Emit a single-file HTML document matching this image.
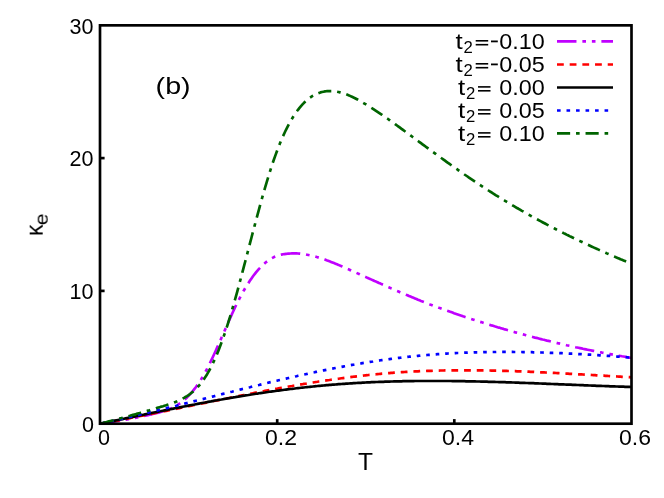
<!DOCTYPE html>
<html><head><meta charset="utf-8"><title>plot</title>
<style>
html,body{margin:0;padding:0;background:#fff;}
svg{display:block;}
text{font-family:"Liberation Sans",sans-serif;fill:#000;}
</style></head><body>
<svg width="664" height="498" viewBox="0 0 664 498">
<rect x="0" y="0" width="664" height="498" fill="#ffffff"/>

<g fill="none" stroke-width="2.67" stroke-linejoin="round">
<path d="M100.0,423.7 L101.5,423.5 L103.0,423.3 L104.5,423.1 L106.0,422.9 L107.5,422.6 L109.0,422.4 L110.5,422.2 L112.0,422.0 L113.5,421.7 L115.0,421.5 L116.5,421.2 L118.0,421.0 L119.5,420.7 L121.0,420.5 L122.5,420.2 L124.0,420.0 L125.5,419.7 L127.0,419.4 L128.5,419.1 L130.0,418.8 L131.5,418.6 L133.0,418.3 L134.5,418.0 L136.0,417.7 L137.5,417.4 L139.0,417.1 L140.5,416.7 L142.0,416.4 L143.5,416.1 L145.0,415.8 L146.5,415.4 L148.0,415.1 L149.5,414.7 L151.0,414.4 L152.5,414.0 L154.0,413.7 L155.5,413.3 L157.0,413.0 L158.5,412.6 L160.0,412.2 L161.5,411.8 L163.0,411.3 L164.5,410.9 L166.0,410.4 L167.5,409.8 L169.0,409.2 L170.5,408.6 L172.0,407.9 L173.5,407.2 L175.0,406.4 L176.5,405.5 L178.0,404.6 L179.5,403.6 L181.0,402.5 L182.5,401.4 L184.0,400.1 L185.5,398.8 L187.0,397.4 L188.5,395.9 L190.0,394.3 L191.5,392.6 L193.0,390.8 L194.5,388.9 L196.0,387.0 L197.5,384.9 L199.0,382.7 L200.5,380.4 L202.0,377.9 L203.5,375.4 L205.0,372.7 L206.5,369.9 L208.0,367.0 L209.5,364.0 L211.0,360.9 L212.5,357.7 L214.0,354.5 L215.5,351.2 L217.0,347.9 L218.5,344.6 L220.0,341.2 L221.5,337.8 L223.0,334.4 L224.5,331.0 L226.0,327.6 L227.5,324.2 L229.0,320.7 L230.5,317.4 L232.0,314.0 L233.5,310.8 L235.0,307.5 L236.5,304.4 L238.0,301.4 L239.5,298.5 L241.0,295.6 L242.5,292.9 L244.0,290.2 L245.5,287.7 L247.0,285.2 L248.5,282.9 L250.0,280.6 L251.5,278.4 L253.0,276.3 L254.5,274.3 L256.0,272.4 L257.5,270.6 L259.0,268.9 L260.5,267.3 L262.0,265.8 L263.5,264.4 L265.0,263.1 L266.5,261.8 L268.0,260.7 L269.5,259.7 L271.0,258.7 L272.5,257.9 L274.0,257.1 L275.5,256.5 L277.0,255.9 L278.5,255.4 L280.0,255.0 L281.5,254.6 L283.0,254.3 L284.5,254.1 L286.0,253.9 L287.5,253.7 L289.0,253.6 L290.5,253.5 L292.0,253.4 L293.5,253.4 L295.0,253.4 L296.5,253.4 L298.0,253.5 L299.5,253.6 L301.0,253.8 L302.5,254.0 L304.0,254.2 L305.5,254.4 L307.0,254.7 L308.5,255.0 L310.0,255.3 L311.5,255.6 L313.0,256.0 L314.5,256.4 L316.0,256.8 L317.5,257.2 L319.0,257.7 L320.5,258.1 L322.0,258.6 L323.5,259.1 L325.0,259.6 L326.5,260.2 L328.0,260.7 L329.5,261.3 L331.0,261.9 L332.5,262.5 L334.0,263.1 L335.5,263.7 L337.0,264.3 L338.5,264.9 L340.0,265.6 L341.5,266.2 L343.0,266.9 L344.5,267.5 L346.0,268.2 L347.5,268.9 L349.0,269.5 L350.5,270.2 L352.0,270.9 L353.5,271.5 L355.0,272.2 L356.5,272.9 L358.0,273.6 L359.5,274.2 L361.0,274.9 L362.5,275.6 L364.0,276.3 L365.5,276.9 L367.0,277.6 L368.5,278.3 L370.0,278.9 L371.5,279.6 L373.0,280.3 L374.5,281.0 L376.0,281.6 L377.5,282.3 L379.0,283.0 L380.5,283.6 L382.0,284.3 L383.5,285.0 L385.0,285.6 L386.5,286.3 L388.0,287.0 L389.5,287.6 L391.0,288.3 L392.5,288.9 L394.0,289.6 L395.5,290.2 L397.0,290.9 L398.5,291.5 L400.0,292.2 L401.5,292.8 L403.0,293.4 L404.5,294.1 L406.0,294.7 L407.5,295.3 L409.0,296.0 L410.5,296.6 L412.0,297.2 L413.5,297.8 L415.0,298.4 L416.5,299.0 L418.0,299.7 L419.5,300.3 L421.0,300.9 L422.5,301.4 L424.0,302.0 L425.5,302.6 L427.0,303.2 L428.5,303.8 L430.0,304.4 L431.5,304.9 L433.0,305.5 L434.5,306.1 L436.0,306.6 L437.5,307.2 L439.0,307.8 L440.5,308.3 L442.0,308.9 L443.5,309.4 L445.0,310.0 L446.5,310.5 L448.0,311.0 L449.5,311.6 L451.0,312.1 L452.5,312.6 L454.0,313.2 L455.5,313.7 L457.0,314.2 L458.5,314.7 L460.0,315.2 L461.5,315.7 L463.0,316.3 L464.5,316.8 L466.0,317.3 L467.5,317.8 L469.0,318.3 L470.5,318.7 L472.0,319.2 L473.5,319.7 L475.0,320.2 L476.5,320.7 L478.0,321.2 L479.5,321.7 L481.0,322.1 L482.5,322.6 L484.0,323.1 L485.5,323.5 L487.0,324.0 L488.5,324.5 L490.0,324.9 L491.5,325.4 L493.0,325.8 L494.5,326.3 L496.0,326.7 L497.5,327.2 L499.0,327.6 L500.5,328.1 L502.0,328.5 L503.5,328.9 L505.0,329.4 L506.5,329.8 L508.0,330.2 L509.5,330.7 L511.0,331.1 L512.5,331.5 L514.0,331.9 L515.5,332.4 L517.0,332.8 L518.5,333.2 L520.0,333.6 L521.5,334.0 L523.0,334.4 L524.5,334.8 L526.0,335.2 L527.5,335.6 L529.0,336.0 L530.5,336.4 L532.0,336.8 L533.5,337.2 L535.0,337.6 L536.5,337.9 L538.0,338.3 L539.5,338.7 L541.0,339.1 L542.5,339.5 L544.0,339.8 L545.5,340.2 L547.0,340.6 L548.5,340.9 L550.0,341.3 L551.5,341.7 L553.0,342.0 L554.5,342.4 L556.0,342.7 L557.5,343.1 L559.0,343.4 L560.5,343.8 L562.0,344.1 L563.5,344.5 L565.0,344.8 L566.5,345.2 L568.0,345.5 L569.5,345.8 L571.0,346.2 L572.5,346.5 L574.0,346.8 L575.5,347.2 L577.0,347.5 L578.5,347.8 L580.0,348.1 L581.5,348.4 L583.0,348.8 L584.5,349.1 L586.0,349.4 L587.5,349.7 L589.0,350.0 L590.5,350.3 L592.0,350.6 L593.5,350.9 L595.0,351.2 L596.5,351.5 L598.0,351.8 L599.5,352.1 L601.0,352.4 L602.5,352.7 L604.0,353.0 L605.5,353.3 L607.0,353.5 L608.5,353.8 L610.0,354.1 L611.5,354.4 L613.0,354.7 L614.5,354.9 L616.0,355.2 L617.5,355.5 L619.0,355.7 L620.5,356.0 L622.0,356.3 L623.5,356.5 L625.0,356.8 L626.5,357.1 L628.0,357.3 L629.5,357.6 L631.0,357.8 L631.5,357.9" stroke="#c000ff" stroke-dasharray="19.48,5.89,3.62,5.89,3.62,5.89" stroke-dashoffset="-0.47"/>
<path d="M100.0,423.7 L101.5,423.4 L103.0,423.2 L104.5,422.9 L106.0,422.6 L107.5,422.3 L109.0,422.1 L110.5,421.8 L112.0,421.5 L113.5,421.2 L115.0,421.0 L116.5,420.7 L118.0,420.4 L119.5,420.1 L121.0,419.8 L122.5,419.5 L124.0,419.3 L125.5,419.0 L127.0,418.7 L128.5,418.4 L130.0,418.1 L131.5,417.8 L133.0,417.5 L134.5,417.2 L136.0,416.9 L137.5,416.6 L139.0,416.3 L140.5,416.0 L142.0,415.7 L143.5,415.4 L145.0,415.1 L146.5,414.8 L148.0,414.5 L149.5,414.2 L151.0,413.9 L152.5,413.6 L154.0,413.3 L155.5,413.0 L157.0,412.7 L158.5,412.4 L160.0,412.1 L161.5,411.8 L163.0,411.5 L164.5,411.2 L166.0,410.9 L167.5,410.6 L169.0,410.3 L170.5,410.0 L172.0,409.7 L173.5,409.4 L175.0,409.1 L176.5,408.8 L178.0,408.4 L179.5,408.1 L181.0,407.8 L182.5,407.5 L184.0,407.2 L185.5,406.9 L187.0,406.6 L188.5,406.3 L190.0,406.0 L191.5,405.7 L193.0,405.3 L194.5,405.0 L196.0,404.7 L197.5,404.4 L199.0,404.1 L200.5,403.8 L202.0,403.5 L203.5,403.2 L205.0,402.9 L206.5,402.6 L208.0,402.3 L209.5,401.9 L211.0,401.6 L212.5,401.3 L214.0,401.0 L215.5,400.7 L217.0,400.4 L218.5,400.1 L220.0,399.8 L221.5,399.5 L223.0,399.2 L224.5,398.9 L226.0,398.6 L227.5,398.3 L229.0,398.0 L230.5,397.7 L232.0,397.4 L233.5,397.1 L235.0,396.8 L236.5,396.5 L238.0,396.2 L239.5,395.9 L241.0,395.6 L242.5,395.3 L244.0,395.0 L245.5,394.7 L247.0,394.4 L248.5,394.1 L250.0,393.8 L251.5,393.5 L253.0,393.2 L254.5,392.9 L256.0,392.6 L257.5,392.3 L259.0,392.0 L260.5,391.8 L262.0,391.5 L263.5,391.2 L265.0,390.9 L266.5,390.6 L268.0,390.3 L269.5,390.0 L271.0,389.8 L272.5,389.5 L274.0,389.2 L275.5,388.9 L277.0,388.7 L278.5,388.4 L280.0,388.1 L281.5,387.8 L283.0,387.6 L284.5,387.3 L286.0,387.0 L287.5,386.8 L289.0,386.5 L290.5,386.2 L292.0,386.0 L293.5,385.7 L295.0,385.5 L296.5,385.2 L298.0,384.9 L299.5,384.7 L301.0,384.4 L302.5,384.2 L304.0,383.9 L305.5,383.7 L307.0,383.4 L308.5,383.2 L310.0,383.0 L311.5,382.7 L313.0,382.5 L314.5,382.2 L316.0,382.0 L317.5,381.8 L319.0,381.5 L320.5,381.3 L322.0,381.1 L323.5,380.8 L325.0,380.6 L326.5,380.4 L328.0,380.2 L329.5,380.0 L331.0,379.7 L332.5,379.5 L334.0,379.3 L335.5,379.1 L337.0,378.9 L338.5,378.7 L340.0,378.5 L341.5,378.3 L343.0,378.1 L344.5,377.9 L346.0,377.7 L347.5,377.5 L349.0,377.3 L350.5,377.1 L352.0,376.9 L353.5,376.7 L355.0,376.6 L356.5,376.4 L358.0,376.2 L359.5,376.0 L361.0,375.8 L362.5,375.7 L364.0,375.5 L365.5,375.3 L367.0,375.2 L368.5,375.0 L370.0,374.9 L371.5,374.7 L373.0,374.6 L374.5,374.4 L376.0,374.3 L377.5,374.1 L379.0,374.0 L380.5,373.8 L382.0,373.7 L383.5,373.6 L385.0,373.4 L386.5,373.3 L388.0,373.2 L389.5,373.1 L391.0,372.9 L392.5,372.8 L394.0,372.7 L395.5,372.6 L397.0,372.5 L398.5,372.4 L400.0,372.3 L401.5,372.2 L403.0,372.1 L404.5,372.0 L406.0,371.9 L407.5,371.8 L409.0,371.7 L410.5,371.7 L412.0,371.6 L413.5,371.5 L415.0,371.4 L416.5,371.3 L418.0,371.3 L419.5,371.2 L421.0,371.1 L422.5,371.1 L424.0,371.0 L425.5,371.0 L427.0,370.9 L428.5,370.9 L430.0,370.8 L431.5,370.8 L433.0,370.7 L434.5,370.7 L436.0,370.6 L437.5,370.6 L439.0,370.6 L440.5,370.5 L442.0,370.5 L443.5,370.5 L445.0,370.4 L446.5,370.4 L448.0,370.4 L449.5,370.4 L451.0,370.3 L452.5,370.3 L454.0,370.3 L455.5,370.3 L457.0,370.3 L458.5,370.3 L460.0,370.3 L461.5,370.3 L463.0,370.3 L464.5,370.3 L466.0,370.3 L467.5,370.3 L469.0,370.3 L470.5,370.3 L472.0,370.3 L473.5,370.3 L475.0,370.3 L476.5,370.3 L478.0,370.3 L479.5,370.4 L481.0,370.4 L482.5,370.4 L484.0,370.4 L485.5,370.4 L487.0,370.5 L488.5,370.5 L490.0,370.5 L491.5,370.6 L493.0,370.6 L494.5,370.6 L496.0,370.7 L497.5,370.7 L499.0,370.7 L500.5,370.8 L502.0,370.8 L503.5,370.8 L505.0,370.9 L506.5,370.9 L508.0,371.0 L509.5,371.0 L511.0,371.1 L512.5,371.1 L514.0,371.2 L515.5,371.2 L517.0,371.3 L518.5,371.3 L520.0,371.4 L521.5,371.4 L523.0,371.5 L524.5,371.6 L526.0,371.6 L527.5,371.7 L529.0,371.7 L530.5,371.8 L532.0,371.9 L533.5,371.9 L535.0,372.0 L536.5,372.1 L538.0,372.1 L539.5,372.2 L541.0,372.3 L542.5,372.4 L544.0,372.4 L545.5,372.5 L547.0,372.6 L548.5,372.6 L550.0,372.7 L551.5,372.8 L553.0,372.9 L554.5,372.9 L556.0,373.0 L557.5,373.1 L559.0,373.2 L560.5,373.3 L562.0,373.3 L563.5,373.4 L565.0,373.5 L566.5,373.6 L568.0,373.7 L569.5,373.8 L571.0,373.8 L572.5,373.9 L574.0,374.0 L575.5,374.1 L577.0,374.2 L578.5,374.3 L580.0,374.3 L581.5,374.4 L583.0,374.5 L584.5,374.6 L586.0,374.7 L587.5,374.8 L589.0,374.9 L590.5,374.9 L592.0,375.0 L593.5,375.1 L595.0,375.2 L596.5,375.3 L598.0,375.4 L599.5,375.5 L601.0,375.6 L602.5,375.7 L604.0,375.7 L605.5,375.8 L607.0,375.9 L608.5,376.0 L610.0,376.1 L611.5,376.2 L613.0,376.3 L614.5,376.4 L616.0,376.4 L617.5,376.5 L619.0,376.6 L620.5,376.7 L622.0,376.8 L623.5,376.9 L625.0,377.0 L626.5,377.0 L628.0,377.1 L629.5,377.2 L631.0,377.3 L631.5,377.3" stroke="#ff0000" stroke-dasharray="6.79,5.89" stroke-dashoffset="-1.07"/>
<path d="M100.0,423.7 L101.5,423.4 L103.0,423.1 L104.5,422.8 L106.0,422.5 L107.5,422.2 L109.0,421.9 L110.5,421.5 L112.0,421.2 L113.5,420.9 L115.0,420.6 L116.5,420.3 L118.0,420.0 L119.5,419.7 L121.0,419.4 L122.5,419.1 L124.0,418.7 L125.5,418.4 L127.0,418.1 L128.5,417.8 L130.0,417.5 L131.5,417.2 L133.0,416.9 L134.5,416.6 L136.0,416.3 L137.5,415.9 L139.0,415.6 L140.5,415.3 L142.0,415.0 L143.5,414.7 L145.0,414.4 L146.5,414.1 L148.0,413.8 L149.5,413.5 L151.0,413.1 L152.5,412.8 L154.0,412.5 L155.5,412.2 L157.0,411.9 L158.5,411.6 L160.0,411.3 L161.5,411.0 L163.0,410.7 L164.5,410.4 L166.0,410.1 L167.5,409.8 L169.0,409.5 L170.5,409.2 L172.0,408.9 L173.5,408.6 L175.0,408.3 L176.5,408.0 L178.0,407.7 L179.5,407.4 L181.0,407.1 L182.5,406.8 L184.0,406.5 L185.5,406.2 L187.0,405.9 L188.5,405.6 L190.0,405.3 L191.5,405.0 L193.0,404.7 L194.5,404.5 L196.0,404.2 L197.5,403.9 L199.0,403.6 L200.5,403.3 L202.0,403.0 L203.5,402.7 L205.0,402.5 L206.5,402.2 L208.0,401.9 L209.5,401.6 L211.0,401.4 L212.5,401.1 L214.0,400.8 L215.5,400.5 L217.0,400.3 L218.5,400.0 L220.0,399.7 L221.5,399.5 L223.0,399.2 L224.5,398.9 L226.0,398.7 L227.5,398.4 L229.0,398.2 L230.5,397.9 L232.0,397.7 L233.5,397.4 L235.0,397.2 L236.5,396.9 L238.0,396.7 L239.5,396.4 L241.0,396.2 L242.5,395.9 L244.0,395.7 L245.5,395.4 L247.0,395.2 L248.5,395.0 L250.0,394.7 L251.5,394.5 L253.0,394.3 L254.5,394.0 L256.0,393.8 L257.5,393.6 L259.0,393.3 L260.5,393.1 L262.0,392.9 L263.5,392.7 L265.0,392.5 L266.5,392.2 L268.0,392.0 L269.5,391.8 L271.0,391.6 L272.5,391.4 L274.0,391.2 L275.5,391.0 L277.0,390.8 L278.5,390.6 L280.0,390.4 L281.5,390.2 L283.0,390.0 L284.5,389.8 L286.0,389.6 L287.5,389.4 L289.0,389.2 L290.5,389.0 L292.0,388.9 L293.5,388.7 L295.0,388.5 L296.5,388.3 L298.0,388.1 L299.5,388.0 L301.0,387.8 L302.5,387.6 L304.0,387.5 L305.5,387.3 L307.0,387.1 L308.5,387.0 L310.0,386.8 L311.5,386.7 L313.0,386.5 L314.5,386.3 L316.0,386.2 L317.5,386.0 L319.0,385.9 L320.5,385.8 L322.0,385.6 L323.5,385.5 L325.0,385.3 L326.5,385.2 L328.0,385.1 L329.5,384.9 L331.0,384.8 L332.5,384.7 L334.0,384.6 L335.5,384.5 L337.0,384.3 L338.5,384.2 L340.0,384.1 L341.5,384.0 L343.0,383.9 L344.5,383.8 L346.0,383.7 L347.5,383.6 L349.0,383.5 L350.5,383.4 L352.0,383.3 L353.5,383.2 L355.0,383.1 L356.5,383.0 L358.0,382.9 L359.5,382.8 L361.0,382.8 L362.5,382.7 L364.0,382.6 L365.5,382.5 L367.0,382.4 L368.5,382.4 L370.0,382.3 L371.5,382.2 L373.0,382.2 L374.5,382.1 L376.0,382.0 L377.5,382.0 L379.0,381.9 L380.5,381.9 L382.0,381.8 L383.5,381.8 L385.0,381.7 L386.5,381.7 L388.0,381.6 L389.5,381.6 L391.0,381.5 L392.5,381.5 L394.0,381.4 L395.5,381.4 L397.0,381.4 L398.5,381.3 L400.0,381.3 L401.5,381.3 L403.0,381.2 L404.5,381.2 L406.0,381.2 L407.5,381.2 L409.0,381.1 L410.5,381.1 L412.0,381.1 L413.5,381.1 L415.0,381.0 L416.5,381.0 L418.0,381.0 L419.5,381.0 L421.0,381.0 L422.5,381.0 L424.0,381.0 L425.5,381.0 L427.0,381.0 L428.5,381.0 L430.0,381.0 L431.5,381.0 L433.0,381.0 L434.5,381.0 L436.0,381.0 L437.5,381.0 L439.0,381.0 L440.5,381.0 L442.0,381.0 L443.5,381.0 L445.0,381.0 L446.5,381.0 L448.0,381.0 L449.5,381.0 L451.0,381.0 L452.5,381.1 L454.0,381.1 L455.5,381.1 L457.0,381.1 L458.5,381.1 L460.0,381.2 L461.5,381.2 L463.0,381.2 L464.5,381.2 L466.0,381.3 L467.5,381.3 L469.0,381.3 L470.5,381.3 L472.0,381.4 L473.5,381.4 L475.0,381.4 L476.5,381.5 L478.0,381.5 L479.5,381.5 L481.0,381.6 L482.5,381.6 L484.0,381.6 L485.5,381.7 L487.0,381.7 L488.5,381.8 L490.0,381.8 L491.5,381.8 L493.0,381.9 L494.5,381.9 L496.0,382.0 L497.5,382.0 L499.0,382.1 L500.5,382.1 L502.0,382.2 L503.5,382.2 L505.0,382.2 L506.5,382.3 L508.0,382.3 L509.5,382.4 L511.0,382.4 L512.5,382.5 L514.0,382.5 L515.5,382.6 L517.0,382.6 L518.5,382.7 L520.0,382.8 L521.5,382.8 L523.0,382.9 L524.5,382.9 L526.0,383.0 L527.5,383.0 L529.0,383.1 L530.5,383.1 L532.0,383.2 L533.5,383.2 L535.0,383.3 L536.5,383.4 L538.0,383.4 L539.5,383.5 L541.0,383.5 L542.5,383.6 L544.0,383.7 L545.5,383.7 L547.0,383.8 L548.5,383.8 L550.0,383.9 L551.5,384.0 L553.0,384.0 L554.5,384.1 L556.0,384.1 L557.5,384.2 L559.0,384.3 L560.5,384.3 L562.0,384.4 L563.5,384.4 L565.0,384.5 L566.5,384.6 L568.0,384.6 L569.5,384.7 L571.0,384.7 L572.5,384.8 L574.0,384.9 L575.5,384.9 L577.0,385.0 L578.5,385.0 L580.0,385.1 L581.5,385.2 L583.0,385.2 L584.5,385.3 L586.0,385.3 L587.5,385.4 L589.0,385.5 L590.5,385.5 L592.0,385.6 L593.5,385.6 L595.0,385.7 L596.5,385.8 L598.0,385.8 L599.5,385.9 L601.0,385.9 L602.5,386.0 L604.0,386.0 L605.5,386.1 L607.0,386.2 L608.5,386.2 L610.0,386.3 L611.5,386.3 L613.0,386.4 L614.5,386.4 L616.0,386.5 L617.5,386.5 L619.0,386.6 L620.5,386.6 L622.0,386.7 L623.5,386.7 L625.0,386.8 L626.5,386.8 L628.0,386.9 L629.5,386.9 L631.0,387.0 L631.5,387.0" stroke="#000000"/>
<path d="M100.0,423.7 L101.5,423.4 L103.0,423.1 L104.5,422.7 L106.0,422.4 L107.5,422.1 L109.0,421.7 L110.5,421.4 L112.0,421.1 L113.5,420.7 L115.0,420.4 L116.5,420.1 L118.0,419.7 L119.5,419.4 L121.0,419.0 L122.5,418.7 L124.0,418.4 L125.5,418.0 L127.0,417.7 L128.5,417.3 L130.0,417.0 L131.5,416.6 L133.0,416.3 L134.5,415.9 L136.0,415.6 L137.5,415.2 L139.0,414.9 L140.5,414.5 L142.0,414.1 L143.5,413.8 L145.0,413.4 L146.5,413.1 L148.0,412.7 L149.5,412.3 L151.0,412.0 L152.5,411.6 L154.0,411.2 L155.5,410.9 L157.0,410.5 L158.5,410.1 L160.0,409.8 L161.5,409.4 L163.0,409.0 L164.5,408.7 L166.0,408.3 L167.5,407.9 L169.0,407.5 L170.5,407.2 L172.0,406.8 L173.5,406.4 L175.0,406.0 L176.5,405.7 L178.0,405.3 L179.5,404.9 L181.0,404.5 L182.5,404.2 L184.0,403.8 L185.5,403.4 L187.0,403.0 L188.5,402.6 L190.0,402.3 L191.5,401.9 L193.0,401.5 L194.5,401.1 L196.0,400.7 L197.5,400.4 L199.0,400.0 L200.5,399.6 L202.0,399.2 L203.5,398.9 L205.0,398.5 L206.5,398.1 L208.0,397.7 L209.5,397.3 L211.0,397.0 L212.5,396.6 L214.0,396.2 L215.5,395.8 L217.0,395.4 L218.5,395.1 L220.0,394.7 L221.5,394.3 L223.0,393.9 L224.5,393.5 L226.0,393.2 L227.5,392.8 L229.0,392.4 L230.5,392.0 L232.0,391.7 L233.5,391.3 L235.0,390.9 L236.5,390.5 L238.0,390.2 L239.5,389.8 L241.0,389.4 L242.5,389.0 L244.0,388.7 L245.5,388.3 L247.0,387.9 L248.5,387.5 L250.0,387.2 L251.5,386.8 L253.0,386.4 L254.5,386.1 L256.0,385.7 L257.5,385.3 L259.0,385.0 L260.5,384.6 L262.0,384.2 L263.5,383.9 L265.0,383.5 L266.5,383.2 L268.0,382.8 L269.5,382.4 L271.0,382.1 L272.5,381.7 L274.0,381.4 L275.5,381.0 L277.0,380.7 L278.5,380.3 L280.0,380.0 L281.5,379.6 L283.0,379.3 L284.5,378.9 L286.0,378.6 L287.5,378.2 L289.0,377.9 L290.5,377.5 L292.0,377.2 L293.5,376.9 L295.0,376.5 L296.5,376.2 L298.0,375.8 L299.5,375.5 L301.0,375.2 L302.5,374.9 L304.0,374.5 L305.5,374.2 L307.0,373.9 L308.5,373.5 L310.0,373.2 L311.5,372.9 L313.0,372.6 L314.5,372.3 L316.0,371.9 L317.5,371.6 L319.0,371.3 L320.5,371.0 L322.0,370.7 L323.5,370.4 L325.0,370.1 L326.5,369.8 L328.0,369.5 L329.5,369.2 L331.0,368.9 L332.5,368.6 L334.0,368.3 L335.5,368.0 L337.0,367.7 L338.5,367.4 L340.0,367.1 L341.5,366.9 L343.0,366.6 L344.5,366.3 L346.0,366.0 L347.5,365.8 L349.0,365.5 L350.5,365.2 L352.0,364.9 L353.5,364.7 L355.0,364.4 L356.5,364.2 L358.0,363.9 L359.5,363.6 L361.0,363.4 L362.5,363.1 L364.0,362.9 L365.5,362.6 L367.0,362.4 L368.5,362.2 L370.0,361.9 L371.5,361.7 L373.0,361.5 L374.5,361.2 L376.0,361.0 L377.5,360.8 L379.0,360.6 L380.5,360.3 L382.0,360.1 L383.5,359.9 L385.0,359.7 L386.5,359.5 L388.0,359.3 L389.5,359.1 L391.0,358.9 L392.5,358.7 L394.0,358.5 L395.5,358.3 L397.0,358.1 L398.5,357.9 L400.0,357.8 L401.5,357.6 L403.0,357.4 L404.5,357.2 L406.0,357.1 L407.5,356.9 L409.0,356.7 L410.5,356.6 L412.0,356.4 L413.5,356.3 L415.0,356.1 L416.5,356.0 L418.0,355.8 L419.5,355.7 L421.0,355.5 L422.5,355.4 L424.0,355.3 L425.5,355.1 L427.0,355.0 L428.5,354.9 L430.0,354.8 L431.5,354.7 L433.0,354.5 L434.5,354.4 L436.0,354.3 L437.5,354.2 L439.0,354.1 L440.5,354.0 L442.0,353.9 L443.5,353.8 L445.0,353.7 L446.5,353.6 L448.0,353.5 L449.5,353.4 L451.0,353.4 L452.5,353.3 L454.0,353.2 L455.5,353.1 L457.0,353.0 L458.5,353.0 L460.0,352.9 L461.5,352.8 L463.0,352.8 L464.5,352.7 L466.0,352.6 L467.5,352.6 L469.0,352.5 L470.5,352.5 L472.0,352.4 L473.5,352.4 L475.0,352.3 L476.5,352.3 L478.0,352.3 L479.5,352.2 L481.0,352.2 L482.5,352.2 L484.0,352.1 L485.5,352.1 L487.0,352.1 L488.5,352.0 L490.0,352.0 L491.5,352.0 L493.0,352.0 L494.5,352.0 L496.0,352.0 L497.5,351.9 L499.0,351.9 L500.5,351.9 L502.0,351.9 L503.5,351.9 L505.0,351.9 L506.5,351.9 L508.0,351.9 L509.5,351.9 L511.0,351.9 L512.5,351.9 L514.0,352.0 L515.5,352.0 L517.0,352.0 L518.5,352.0 L520.0,352.0 L521.5,352.0 L523.0,352.1 L524.5,352.1 L526.0,352.1 L527.5,352.1 L529.0,352.2 L530.5,352.2 L532.0,352.2 L533.5,352.3 L535.0,352.3 L536.5,352.3 L538.0,352.4 L539.5,352.4 L541.0,352.5 L542.5,352.5 L544.0,352.6 L545.5,352.6 L547.0,352.7 L548.5,352.7 L550.0,352.8 L551.5,352.8 L553.0,352.9 L554.5,352.9 L556.0,353.0 L557.5,353.0 L559.0,353.1 L560.5,353.2 L562.0,353.2 L563.5,353.3 L565.0,353.4 L566.5,353.4 L568.0,353.5 L569.5,353.6 L571.0,353.7 L572.5,353.7 L574.0,353.8 L575.5,353.9 L577.0,354.0 L578.5,354.1 L580.0,354.1 L581.5,354.2 L583.0,354.3 L584.5,354.4 L586.0,354.5 L587.5,354.6 L589.0,354.7 L590.5,354.7 L592.0,354.8 L593.5,354.9 L595.0,355.0 L596.5,355.1 L598.0,355.2 L599.5,355.3 L601.0,355.4 L602.5,355.5 L604.0,355.6 L605.5,355.7 L607.0,355.8 L608.5,355.9 L610.0,356.0 L611.5,356.1 L613.0,356.2 L614.5,356.4 L616.0,356.5 L617.5,356.6 L619.0,356.7 L620.5,356.8 L622.0,356.9 L623.5,357.0 L625.0,357.1 L626.5,357.2 L628.0,357.4 L629.5,357.5 L631.0,357.6 L631.5,357.6" stroke="#0000ff" stroke-dasharray="3.62,5.89" stroke-dashoffset="-0.97"/>
<path d="M100.0,423.7 L101.5,423.3 L103.0,423.0 L104.5,422.6 L106.0,422.2 L107.5,421.8 L109.0,421.4 L110.5,421.0 L112.0,420.6 L113.5,420.3 L115.0,419.9 L116.5,419.5 L118.0,419.1 L119.5,418.6 L121.0,418.2 L122.5,417.8 L124.0,417.4 L125.5,417.0 L127.0,416.6 L128.5,416.2 L130.0,415.8 L131.5,415.3 L133.0,414.9 L134.5,414.5 L136.0,414.1 L137.5,413.6 L139.0,413.2 L140.5,412.8 L142.0,412.3 L143.5,411.9 L145.0,411.5 L146.5,411.0 L148.0,410.6 L149.5,410.2 L151.0,409.7 L152.5,409.3 L154.0,408.8 L155.5,408.4 L157.0,407.9 L158.5,407.5 L160.0,407.1 L161.5,406.6 L163.0,406.2 L164.5,405.7 L166.0,405.3 L167.5,404.8 L169.0,404.3 L170.5,403.8 L172.0,403.3 L173.5,402.8 L175.0,402.2 L176.5,401.6 L178.0,400.9 L179.5,400.2 L181.0,399.5 L182.5,398.7 L184.0,397.9 L185.5,397.0 L187.0,396.1 L188.5,395.1 L190.0,394.0 L191.5,392.8 L193.0,391.6 L194.5,390.2 L196.0,388.8 L197.5,387.3 L199.0,385.6 L200.5,383.8 L202.0,381.9 L203.5,379.8 L205.0,377.6 L206.5,375.3 L208.0,372.7 L209.5,370.0 L211.0,367.2 L212.5,364.1 L214.0,360.9 L215.5,357.6 L217.0,354.1 L218.5,350.4 L220.0,346.5 L221.5,342.5 L223.0,338.4 L224.5,334.1 L226.0,329.6 L227.5,325.0 L229.0,320.2 L230.5,315.3 L232.0,310.2 L233.5,305.0 L235.0,299.7 L236.5,294.3 L238.0,288.8 L239.5,283.2 L241.0,277.6 L242.5,271.9 L244.0,266.2 L245.5,260.5 L247.0,254.7 L248.5,249.0 L250.0,243.2 L251.5,237.5 L253.0,231.7 L254.5,226.1 L256.0,220.4 L257.5,214.8 L259.0,209.3 L260.5,203.8 L262.0,198.4 L263.5,193.1 L265.0,187.9 L266.5,182.8 L268.0,177.9 L269.5,173.0 L271.0,168.3 L272.5,163.7 L274.0,159.3 L275.5,155.1 L277.0,151.0 L278.5,147.1 L280.0,143.3 L281.5,139.7 L283.0,136.3 L284.5,133.0 L286.0,129.8 L287.5,126.8 L289.0,124.0 L290.5,121.3 L292.0,118.7 L293.5,116.3 L295.0,114.0 L296.5,111.8 L298.0,109.8 L299.5,107.9 L301.0,106.1 L302.5,104.4 L304.0,102.8 L305.5,101.4 L307.0,100.1 L308.5,98.8 L310.0,97.7 L311.5,96.7 L313.0,95.7 L314.5,94.9 L316.0,94.1 L317.5,93.5 L319.0,92.9 L320.5,92.4 L322.0,92.0 L323.5,91.7 L325.0,91.4 L326.5,91.2 L328.0,91.1 L329.5,91.1 L331.0,91.1 L332.5,91.1 L334.0,91.3 L335.5,91.5 L337.0,91.7 L338.5,92.0 L340.0,92.4 L341.5,92.8 L343.0,93.2 L344.5,93.7 L346.0,94.2 L347.5,94.8 L349.0,95.4 L350.5,96.1 L352.0,96.8 L353.5,97.5 L355.0,98.2 L356.5,99.0 L358.0,99.8 L359.5,100.7 L361.0,101.5 L362.5,102.4 L364.0,103.3 L365.5,104.2 L367.0,105.1 L368.5,106.0 L370.0,106.9 L371.5,107.9 L373.0,108.8 L374.5,109.8 L376.0,110.8 L377.5,111.8 L379.0,112.8 L380.5,113.8 L382.0,114.8 L383.5,115.9 L385.0,116.9 L386.5,118.0 L388.0,119.0 L389.5,120.1 L391.0,121.2 L392.5,122.2 L394.0,123.3 L395.5,124.4 L397.0,125.5 L398.5,126.6 L400.0,127.7 L401.5,128.8 L403.0,129.9 L404.5,131.0 L406.0,132.1 L407.5,133.2 L409.0,134.3 L410.5,135.4 L412.0,136.5 L413.5,137.6 L415.0,138.7 L416.5,139.9 L418.0,141.0 L419.5,142.1 L421.0,143.2 L422.5,144.3 L424.0,145.4 L425.5,146.5 L427.0,147.6 L428.5,148.7 L430.0,149.8 L431.5,150.9 L433.0,152.0 L434.5,153.1 L436.0,154.2 L437.5,155.3 L439.0,156.4 L440.5,157.5 L442.0,158.5 L443.5,159.6 L445.0,160.7 L446.5,161.8 L448.0,162.9 L449.5,163.9 L451.0,165.0 L452.5,166.1 L454.0,167.1 L455.5,168.2 L457.0,169.2 L458.5,170.3 L460.0,171.4 L461.5,172.4 L463.0,173.4 L464.5,174.5 L466.0,175.5 L467.5,176.5 L469.0,177.6 L470.5,178.6 L472.0,179.6 L473.5,180.6 L475.0,181.6 L476.5,182.6 L478.0,183.6 L479.5,184.6 L481.0,185.6 L482.5,186.6 L484.0,187.6 L485.5,188.6 L487.0,189.5 L488.5,190.5 L490.0,191.5 L491.5,192.4 L493.0,193.4 L494.5,194.3 L496.0,195.3 L497.5,196.2 L499.0,197.1 L500.5,198.1 L502.0,199.0 L503.5,199.9 L505.0,200.8 L506.5,201.7 L508.0,202.6 L509.5,203.5 L511.0,204.4 L512.5,205.3 L514.0,206.2 L515.5,207.1 L517.0,208.0 L518.5,208.8 L520.0,209.7 L521.5,210.6 L523.0,211.4 L524.5,212.3 L526.0,213.1 L527.5,214.0 L529.0,214.8 L530.5,215.7 L532.0,216.5 L533.5,217.3 L535.0,218.2 L536.5,219.0 L538.0,219.8 L539.5,220.6 L541.0,221.4 L542.5,222.2 L544.0,223.0 L545.5,223.8 L547.0,224.6 L548.5,225.4 L550.0,226.2 L551.5,227.0 L553.0,227.8 L554.5,228.5 L556.0,229.3 L557.5,230.1 L559.0,230.8 L560.5,231.6 L562.0,232.3 L563.5,233.1 L565.0,233.8 L566.5,234.6 L568.0,235.3 L569.5,236.1 L571.0,236.8 L572.5,237.5 L574.0,238.2 L575.5,239.0 L577.0,239.7 L578.5,240.4 L580.0,241.1 L581.5,241.8 L583.0,242.5 L584.5,243.2 L586.0,243.9 L587.5,244.6 L589.0,245.3 L590.5,246.0 L592.0,246.7 L593.5,247.4 L595.0,248.1 L596.5,248.7 L598.0,249.4 L599.5,250.1 L601.0,250.7 L602.5,251.4 L604.0,252.1 L605.5,252.7 L607.0,253.4 L608.5,254.0 L610.0,254.7 L611.5,255.3 L613.0,256.0 L614.5,256.6 L616.0,257.3 L617.5,257.9 L619.0,258.5 L620.5,259.2 L622.0,259.8 L623.5,260.4 L625.0,261.0 L626.5,261.6 L628.0,262.3 L629.5,262.9 L631.0,263.5 L631.5,263.7" stroke="#006400" stroke-dasharray="13.14,5.89,3.62,5.89" stroke-dashoffset="-0.88"/>
</g>
<g fill="none" stroke-width="2.67">
<path d="M557,41.4 L613,41.4" stroke="#c000ff" stroke-dasharray="19.48,5.89,3.62,5.89,3.62,5.89"/>
<path d="M557,64.5 L613,64.5" stroke="#ff0000" stroke-dasharray="6.79,5.89"/>
<path d="M557,87.5 L613,87.5" stroke="#000000"/>
<path d="M557,110.5 L613,110.5" stroke="#0000ff" stroke-dasharray="3.62,5.89"/>
<path d="M557,133.4 L613,133.4" stroke="#006400" stroke-dasharray="13.14,5.89,3.62,5.89"/>
</g>
<g stroke="#000" stroke-width="2.67" fill="none" stroke-linecap="butt">
<rect x="100.0" y="25.35" width="531.5" height="398.34999999999997"/>
<path d="M277.2,423.7 L277.2,419.10"/>
<path d="M100.0,290.9 L104.60,290.9"/>
<path d="M454.3,423.7 L454.3,419.10"/>
<path d="M100.0,158.1 L104.60,158.1"/>
</g>
<g opacity="0.999">
<text x="69.5" y="33.5" font-size="22.3" text-anchor="start" textLength="24" lengthAdjust="spacingAndGlyphs">30</text>
<text x="69.5" y="165.9" font-size="22.3" text-anchor="start" textLength="24" lengthAdjust="spacingAndGlyphs">20</text>
<text x="69.5" y="299.0" font-size="22.3" text-anchor="start" textLength="24" lengthAdjust="spacingAndGlyphs">10</text>
<text x="82" y="431.7" font-size="22.3" text-anchor="start" textLength="12" lengthAdjust="spacingAndGlyphs">0</text>
<text x="98" y="445.25" font-size="22.3" text-anchor="start" textLength="12" lengthAdjust="spacingAndGlyphs">0</text>
<text x="265" y="445.25" font-size="22.3" text-anchor="start" textLength="32" lengthAdjust="spacingAndGlyphs">0.2</text>
<text x="442" y="445.25" font-size="22.3" text-anchor="start" textLength="32" lengthAdjust="spacingAndGlyphs">0.4</text>
<text x="619" y="445.25" font-size="22.3" text-anchor="start" textLength="32" lengthAdjust="spacingAndGlyphs">0.6</text>
<text x="358" y="469.6" font-size="23.5" text-anchor="start" textLength="15" lengthAdjust="spacingAndGlyphs">T</text>
<g transform="translate(42.7,236) rotate(-90)"><text x="0" y="0" font-size="24" textLength="11.5" lengthAdjust="spacingAndGlyphs">κ</text><text x="10.7" y="4.8" font-size="19" textLength="11.8" lengthAdjust="spacingAndGlyphs">e</text></g>
<text x="155.6" y="94.3" font-size="24" text-anchor="start" textLength="35" lengthAdjust="spacingAndGlyphs">(b)</text>
<text x="455.4" y="49.2" font-size="22.3" text-anchor="start" textLength="7.2" lengthAdjust="spacingAndGlyphs">t</text>
<text x="463.4" y="53.2" font-size="17.4" text-anchor="start" textLength="9.3" lengthAdjust="spacingAndGlyphs">2</text>
<rect x="475.7" y="40.0" width="12.5" height="1.6"/>
<rect x="475.7" y="43.9" width="12.5" height="1.6"/>
<rect x="491.0" y="40.5" width="6.8" height="1.8"/>
<text x="499.2" y="49.2" font-size="22.3" text-anchor="start" textLength="45.5" lengthAdjust="spacingAndGlyphs">0.10</text>
<text x="455.4" y="72.2" font-size="22.3" text-anchor="start" textLength="7.2" lengthAdjust="spacingAndGlyphs">t</text>
<text x="463.4" y="76.2" font-size="17.4" text-anchor="start" textLength="9.3" lengthAdjust="spacingAndGlyphs">2</text>
<rect x="475.7" y="63.0" width="12.5" height="1.6"/>
<rect x="475.7" y="66.9" width="12.5" height="1.6"/>
<rect x="491.0" y="63.5" width="6.8" height="1.8"/>
<text x="499.2" y="72.2" font-size="22.3" text-anchor="start" textLength="45.5" lengthAdjust="spacingAndGlyphs">0.05</text>
<text x="458.0" y="95.3" font-size="22.3" text-anchor="start" textLength="7.2" lengthAdjust="spacingAndGlyphs">t</text>
<text x="466.0" y="99.3" font-size="17.4" text-anchor="start" textLength="9.3" lengthAdjust="spacingAndGlyphs">2</text>
<rect x="478.0" y="86.1" width="12.5" height="1.6"/>
<rect x="478.0" y="90.0" width="12.5" height="1.6"/>
<text x="499.2" y="95.3" font-size="22.3" text-anchor="start" textLength="45.5" lengthAdjust="spacingAndGlyphs">0.00</text>
<text x="458.0" y="118.3" font-size="22.3" text-anchor="start" textLength="7.2" lengthAdjust="spacingAndGlyphs">t</text>
<text x="466.0" y="122.3" font-size="17.4" text-anchor="start" textLength="9.3" lengthAdjust="spacingAndGlyphs">2</text>
<rect x="478.0" y="109.1" width="12.5" height="1.6"/>
<rect x="478.0" y="113.0" width="12.5" height="1.6"/>
<text x="499.2" y="118.3" font-size="22.3" text-anchor="start" textLength="45.5" lengthAdjust="spacingAndGlyphs">0.05</text>
<text x="458.0" y="141.3" font-size="22.3" text-anchor="start" textLength="7.2" lengthAdjust="spacingAndGlyphs">t</text>
<text x="466.0" y="145.3" font-size="17.4" text-anchor="start" textLength="9.3" lengthAdjust="spacingAndGlyphs">2</text>
<rect x="478.0" y="132.1" width="12.5" height="1.6"/>
<rect x="478.0" y="136.0" width="12.5" height="1.6"/>
<text x="499.2" y="141.3" font-size="22.3" text-anchor="start" textLength="45.5" lengthAdjust="spacingAndGlyphs">0.10</text>
</g>
</svg></body></html>
